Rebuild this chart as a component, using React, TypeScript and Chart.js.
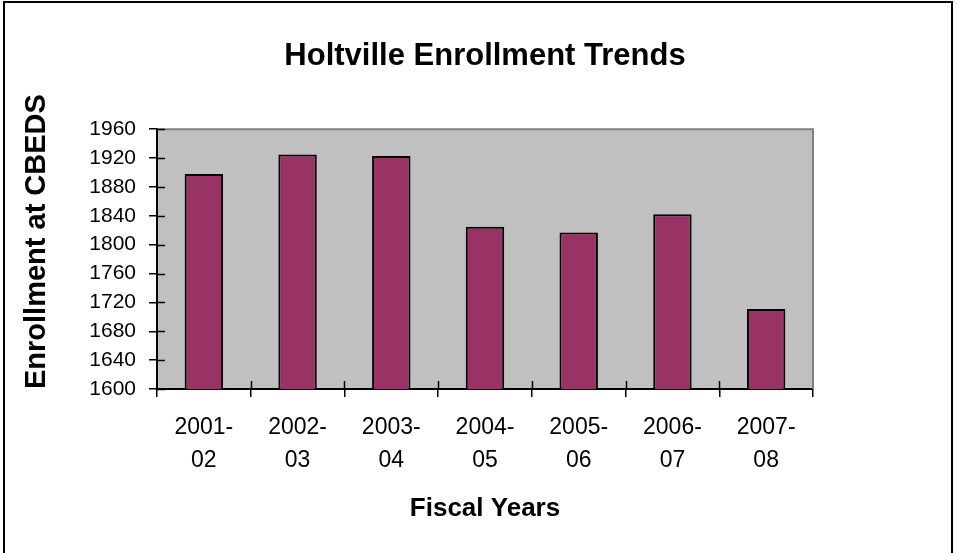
import React, { useEffect, useRef } from "react";
import { Chart, registerables } from "chart.js";

Chart.register(...registerables);

const titleText = "Holtville Enrollment Trends";
const yAxisTitle = "Enrollment at CBEDS";
const xAxisTitle = "Fiscal Years";
const categories: string[][] = [
  ["2001-", "02"],
  ["2002-", "03"],
  ["2003-", "04"],
  ["2004-", "05"],
  ["2005-", "06"],
  ["2006-", "07"],
  ["2007-", "08"],
];
const enrollment: number[] = [1898, 1925, 1923, 1825, 1817, 1842, 1711];
const yMin = 1600;
const yMax = 1960;
const yStep = 40;

const FONT = "'Liberation Sans', Arial, Helvetica, sans-serif";

const plotDecor = {
  id: "plotDecor",
  beforeDraw(chart: any) {
    const { ctx, chartArea } = chart;
    ctx.save();
    ctx.fillStyle = "#c0c0c0";
    ctx.fillRect(chartArea.left, chartArea.top, chartArea.right - chartArea.left, chartArea.bottom - chartArea.top);
    ctx.restore();
  },
  beforeDatasetsDraw(chart: any) {
    const { ctx, chartArea } = chart;
    ctx.save();
    ctx.strokeStyle = "#808080";
    ctx.lineWidth = 2;
    ctx.beginPath();
    ctx.moveTo(chartArea.left, chartArea.top);
    ctx.lineTo(chartArea.right, chartArea.top);
    ctx.lineTo(chartArea.right, chartArea.bottom);
    ctx.stroke();
    ctx.restore();
  },
  afterDatasetsDraw(chart: any) {
    const { ctx, chartArea } = chart;
    const ys = chart.scales.y;
    const xs = chart.scales.x;
    ctx.save();
    ctx.strokeStyle = "#000";
    ctx.lineWidth = 1.5;
    ctx.beginPath();
    ys.ticks.forEach((t: any) => {
      const py = Math.round(ys.getPixelForValue(t.value)) + 0.5;
      ctx.moveTo(chartArea.left, py);
      ctx.lineTo(chartArea.left + 8, py);
    });
    const n = categories.length;
    for (let i = 1; i < n; i++) {
      const px = Math.round(xs.left + (i * xs.width) / n) + 0.5;
      ctx.moveTo(px, chartArea.bottom);
      ctx.lineTo(px, chartArea.bottom - 8);
    }
    ctx.stroke();
    ctx.restore();
  },
};

export default function App() {
  const ref = useRef<HTMLCanvasElement | null>(null);

  useEffect(() => {
    if (!ref.current) return;
    const chart = new Chart(ref.current, {
      type: "bar",
      data: {
        labels: categories,
        datasets: [
          {
            data: enrollment,
            backgroundColor: "#993366",
            borderColor: "#000000",
            borderWidth: 2,
            borderSkipped: false,
            barPercentage: 0.41,
            categoryPercentage: 1,
          },
        ],
      },
      options: {
        animation: false,
        responsive: false,
        devicePixelRatio: 1,
        layout: { padding: { left: 0, right: 144, top: 0, bottom: 0 } },
        plugins: {
          legend: { display: false },
          tooltip: { enabled: false },
          title: {
            display: true,
            text: titleText,
            color: "#000",
            fullSize: false,
            font: { family: FONT, size: 31, weight: "bold", lineHeight: 1.2 },
            padding: { top: 38, bottom: 54 },
          },
        },
        scales: {
          x: {
            offset: true,
            grid: {
              offset: true,
              drawOnChartArea: false,
              drawTicks: true,
              tickLength: 8,
              color: "#000",
              lineWidth: 1.5,
            },
            border: { display: true, color: "#000", width: 2 },
            ticks: {
              color: "#000",
              padding: 14,
              maxRotation: 0,
              autoSkip: false,
              font: { family: FONT, size: 23, lineHeight: 1.435 },
            },
            title: {
              display: true,
              text: xAxisTitle,
              color: "#000",
              font: { family: FONT, size: 26, weight: "bold", lineHeight: 1.2 },
              padding: { top: 0, bottom: 29 },
            },
            afterFit: (scale: any) => {
              scale.height = 164;
            },
          },
          y: {
            min: yMin,
            max: yMax,
            grid: {
              drawOnChartArea: false,
              drawTicks: true,
              tickLength: 8,
              color: "#000",
              lineWidth: 1.5,
            },
            border: { display: true, color: "#000", width: 2 },
            ticks: {
              stepSize: yStep,
              color: "#000",
              padding: 13,
              font: { family: FONT, size: 21 },
              callback: (v: any) => String(v),
            },
            title: {
              display: true,
              text: yAxisTitle,
              color: "#000",
              align: "start",
              font: { family: FONT, size: 29, weight: "bold", lineHeight: 1.2 },
              padding: { top: 20, bottom: 0 },
            },
            afterFit: (scale: any) => {
              scale.width = 157;
            },
          },
        },
      },
      plugins: [plotDecor],
    });
    return () => chart.destroy();
  }, []);

  return (
    <div
      style={{
        position: "fixed",
        left: 0,
        top: 0,
        width: 957,
        height: 553,
        overflow: "hidden",
        background: "#fff",
      }}
    >
      <canvas ref={ref} width={957} height={553} style={{ position: "absolute", left: 0, top: 0, width: 957, height: 553 }} />
      <div
        style={{
          position: "absolute",
          left: 3,
          top: 1,
          width: 946,
          height: 620,
          border: "2px solid #000",
          pointerEvents: "none",
        }}
      />
    </div>
  );
}
